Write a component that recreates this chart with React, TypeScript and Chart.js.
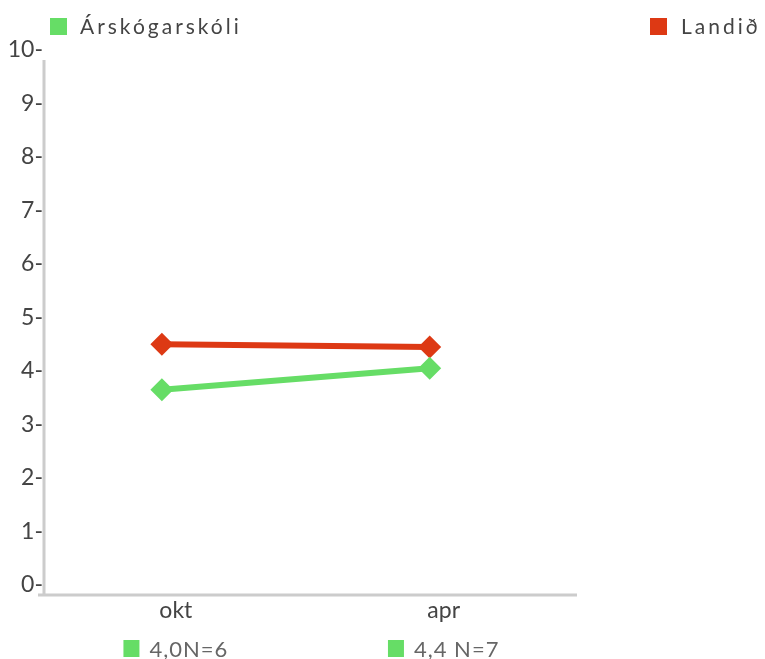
import React, { useEffect, useRef } from "react";
import { Chart, registerables } from "chart.js";

Chart.register(...registerables);

const categories = ["okt", "apr"];
const schoolName = "Árskógarskóli";
const countryName = "Landið";
const schoolValues = [3.65, 4.05];
const countryValues = [4.5, 4.45];
const bottomNotes = ["4,0N=6", "4,4 N=7"];
const yTicks = [0, 1, 2, 3, 4, 5, 6, 7, 8, 9, 10];

const GREEN = "rgb(102,221,102)";
const RED = "rgb(221,57,20)";
const FONT = "Lato, 'Noto Sans', sans-serif";
const LABEL_SHIFT = 14;

const overlay = {
  id: "overlay",
  afterDraw(chart: any) {
    const { ctx, chartArea } = chart;
    const xs = chart.scales.x;
    ctx.save();
    ctx.strokeStyle = "#cccccc";
    ctx.lineWidth = 3;
    ctx.beginPath();
    ctx.moveTo(chartArea.left, chartArea.top + 10);
    ctx.lineTo(chartArea.left, chartArea.bottom + 10);
    ctx.moveTo(chartArea.left - 6, chartArea.bottom + 10);
    ctx.lineTo(chartArea.right, chartArea.bottom + 10);
    ctx.stroke();
    ctx.font = `22px ${FONT}`;
    ctx.textBaseline = "alphabetic";
    categories.forEach((_, i) => {
      const cx = xs.getPixelForValue(i) + LABEL_SHIFT;
      const text = bottomNotes[i];
      (ctx as any).letterSpacing = "1px";
      const tw = ctx.measureText(text).width;
      const total = 16 + 10 + tw;
      const x0 = cx - total / 2;
      ctx.fillStyle = GREEN;
      ctx.fillRect(x0, 640, 16, 17);
      ctx.fillStyle = "#666666";
      ctx.textAlign = "left";
      ctx.fillText(text, x0 + 26, 657);
    });
    ctx.restore();
  },
};

export default function App() {
  const ref = useRef<HTMLCanvasElement | null>(null);
  useEffect(() => {
    if (!ref.current) return;
    const chart = new Chart(ref.current, {
      type: "line",
      data: {
        datasets: [
          {
            label: schoolName,
            data: schoolValues.map((v, i) => ({ x: i, y: v })),
            borderColor: GREEN,
            backgroundColor: GREEN,
            borderWidth: 6,
            pointStyle: "rectRot",
            pointRadius: 11.5,
            pointBorderWidth: 0,
            pointBackgroundColor: GREEN,
          },
          {
            label: countryName,
            data: countryValues.map((v, i) => ({ x: i, y: v })),
            borderColor: RED,
            backgroundColor: RED,
            borderWidth: 6,
            pointStyle: "rectRot",
            pointRadius: 11.5,
            pointBorderWidth: 0,
            pointBackgroundColor: RED,
          },
        ],
      },
      options: {
        animation: false,
        responsive: true,
        maintainAspectRatio: false,
        layout: { padding: { top: 50, right: 188, left: 0, bottom: 0 } },
        plugins: { legend: { display: false }, tooltip: { enabled: false } },
        scales: {
          x: {
            type: "linear",
            min: -0.44,
            max: 1.55,
            grid: { display: false, drawTicks: false },
            border: { display: false },
            afterBuildTicks: (s: any) => {
              s.ticks = categories.map((_, i) => ({ value: i }));
            },
            afterFit: (s: any) => {
              s.height = 74;
            },
            ticks: {
              autoSkip: false,
              maxRotation: 0,
              padding: 12,
              labelOffset: LABEL_SHIFT,
              color: "#444444",
              font: { family: FONT, size: 23 },
              callback: (v: any) => categories[v] ?? "",
            },
          },
          y: {
            min: 0,
            max: 10,
            grid: { display: false, drawTicks: false },
            border: { display: false },
            afterBuildTicks: (s: any) => {
              s.ticks = yTicks.map((v) => ({ value: v }));
            },
            afterFit: (s: any) => {
              s.width = 44;
            },
            ticks: {
              padding: 1,
              color: "#444444",
              font: { family: FONT, size: 23 },
              callback: (v: any) => `${v}-`,
            },
          },
        },
      },
      plugins: [overlay],
    });
    return () => chart.destroy();
  }, []);

  const legendText: React.CSSProperties = {
    position: "absolute",
    top: 12,
    fontFamily: FONT,
    fontSize: 21,
    letterSpacing: "3px",
    color: "#444444",
    lineHeight: "28px",
    whiteSpace: "nowrap",
  };

  return (
    <div style={{ position: "fixed", left: 0, top: 0, width: 765, height: 659, background: "#fff" }}>
      <canvas ref={ref} />
      <div style={{ position: "absolute", left: 50, top: 18, width: 17, height: 17, background: GREEN }} />
      <div style={{ ...legendText, left: 80 }}>{schoolName}</div>
      <div style={{ position: "absolute", left: 650, top: 18, width: 17, height: 17, background: RED }} />
      <div style={{ ...legendText, left: 681 }}>{countryName}</div>
    </div>
  );
}
